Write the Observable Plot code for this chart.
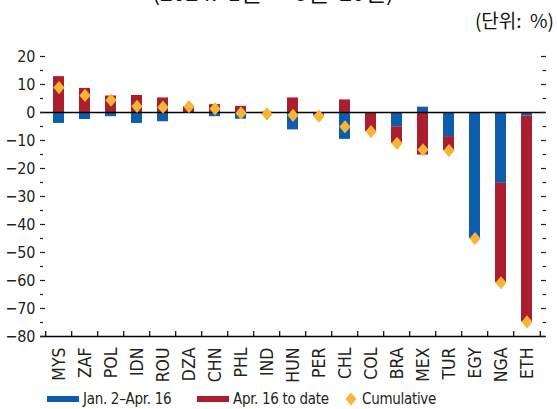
<!DOCTYPE html>
<html>
<head>
<meta charset="utf-8">
<script src="https://cdn.jsdelivr.net/npm/d3@7"></script>
<script src="https://cdn.jsdelivr.net/npm/@observablehq/plot@0.6"></script>
<style>
  html, body { margin: 0; padding: 0; background: #fff; }
  #wrap { position: relative; width: 557px; height: 409px; overflow: hidden; font-family: "DejaVu Sans Condensed", "DejaVu Sans", sans-serif; font-stretch: condensed; color: #231f20; }
  #title { position: absolute; left: 0; width: 546px; top: -20px; text-align: center; font-family: "Noto Sans CJK KR", sans-serif; font-size: 23px; line-height: 1; white-space: pre; color: #111; }
  #unit { position: absolute; right: 3px; top: 10px; font-family: "Noto Sans CJK KR", sans-serif; font-stretch: normal; font-size: 19px; line-height: 1; white-space: pre; color: #111; }
  #chart { position: absolute; left: 0; top: 44px; }
  #chart svg text { font-stretch: condensed; }
  #legend { position: absolute; left: 0; top: 389px; height: 20px; width: 557px; font-size: 15px; letter-spacing: -0.3px; line-height: 20px; white-space: nowrap; }
  .item { position: absolute; top: 0; display: flex; align-items: center; height: 20px; }
  .sw { display: inline-block; width: 32px; height: 6px; margin-right: 4px; }
  .dia { display: inline-block; margin-right: 5px; }
</style>
</head>
<body>
<div id="wrap">
  <div id="title">(2024.  1월  ~  5월  20일)</div>
  <div id="unit">(단위:  %)</div>
  <div id="chart"></div>
  <div id="legend"></div>
</div>
<script>
const categories = ["MYS","ZAF","POL","IDN","ROU","DZA","CHN","PHL","IND","HUN","PER","CHL","COL","BRA","MEX","TUR","EGY","NGA","ETH"];
const seriesNames = ["Jan. 2–Apr. 16", "Apr. 16 to date", "Cumulative"];
const janToApr = [-3.9,-2.5,-1.5,-3.9,-3.3,0,-1.5,-2.4,-0.6,-6.2,-0.9,-9.6,-0.3,-5.1,1.9,-8.6,-45.0,-25.3,-1.3];
const aprToDate = [12.8,8.6,5.9,6.1,5.2,2.1,2.8,2.2,0.1,5.2,-0.4,4.5,-6.5,-5.9,-15.2,-5.0,0,-35.5,-73.5];
const cumulative = [8.9,6.1,4.4,2.2,1.9,2.1,1.3,-0.2,-0.5,-1.0,-1.3,-5.1,-6.8,-11.0,-13.3,-13.6,-45.0,-60.8,-74.8];
const yMajor = [20,10,0,-10,-20,-30,-40,-50,-60,-70,-80];
const yMinor = [15,5,-5,-15,-25,-35,-45,-55,-65,-75];

const colors = ["#0c5dab", "#ab1e2f", "#f7b538"];

const rows = [
  ...categories.map((c, i) => ({country: c, series: seriesNames[0], value: janToApr[i]})),
  ...categories.map((c, i) => ({country: c, series: seriesNames[1], value: aprToDate[i]}))
];
const cum = categories.map((c, i) => ({country: c, value: cumulative[i]}));

const diamond = {
  draw(ctx) {
    const w = 5.6, h = 6.6;
    ctx.moveTo(0, -h); ctx.lineTo(w, 0); ctx.lineTo(0, h); ctx.lineTo(-w, 0); ctx.closePath();
  }
};

const W = 557, H = 344, mL = 40, mR = 12, mT = 12, mB = 52;
const step = (W - mL - mR) / categories.length;
const font = '"DejaVu Sans Condensed", "DejaVu Sans", sans-serif';

const chart = Plot.plot({
  width: W, height: H,
  marginLeft: mL, marginRight: mR, marginTop: mT, marginBottom: mB,
  style: {fontFamily: font, fontSize: "16px", color: "#231f20", background: "white"},
  x: {domain: categories, paddingInner: 0.58, paddingOuter: 0.29, axis: null, label: null},
  y: {domain: [-80, 20], axis: null, label: null},
  color: {domain: seriesNames.slice(0, 2), range: colors.slice(0, 2)},
  marks: [
    Plot.barY(rows, Plot.stackY({x: "country", y: "value", fill: "series"})),
    Plot.ruleY([0], {stroke: "#000", strokeWidth: 1.6}),
    Plot.ruleY([-80], {stroke: "#000", strokeWidth: 1.3}),
    Plot.ruleX(categories, {x: d => d, dx: -step / 2, y1: -80, y2: -78.2, stroke: "#000", strokeWidth: 1.2}),
    Plot.ruleX([categories[categories.length - 1]], {x: d => d, dx: step / 2, y1: -80, y2: -78.2, stroke: "#000", strokeWidth: 1.2}),
    Plot.dot(cum, {x: "country", y: "value", symbol: diamond, fill: colors[2], stroke: null}),
    Plot.axisY(yMajor, {anchor: "left", tickSize: 0, tickPadding: 5, fontSize: 16, label: null}),
    Plot.axisY(yMajor, {anchor: "left", tickSize: -5, text: null, strokeWidth: 1.2, label: null}),
    Plot.axisY(yMinor, {anchor: "left", tickSize: -3, text: null, strokeWidth: 1.2, label: null}),
    Plot.axisY(yMajor, {anchor: "right", tickSize: -5, text: null, strokeWidth: 1.2, label: null}),
    Plot.axisY(yMinor, {anchor: "right", tickSize: -3.5, text: null, strokeWidth: 1.2, label: null}),
    Plot.axisX({anchor: "bottom", tickSize: 0, tickPadding: 11, tickRotate: -90, fontSize: 17.5, label: null})
  ]
});
document.getElementById("chart").appendChild(chart);

const legend = document.getElementById("legend");
const items = [
  {left: 47, html: `<span class="sw" style="background:${colors[0]}"></span>${seriesNames[0]}`},
  {left: 197, html: `<span class="sw" style="background:${colors[1]}"></span>${seriesNames[1]}`},
  {left: 345, html: `<svg class="dia" width="12" height="14" viewBox="-6 -7 12 14"><path d="M0,-6.5L5.5,0L0,6.5L-5.5,0Z" fill="${colors[2]}"/></svg>${seriesNames[2]}`}
];
for (const it of items) {
  const d = document.createElement("div");
  d.className = "item";
  d.style.left = it.left + "px";
  d.innerHTML = it.html;
  legend.appendChild(d);
}
</script>
</body>
</html>
